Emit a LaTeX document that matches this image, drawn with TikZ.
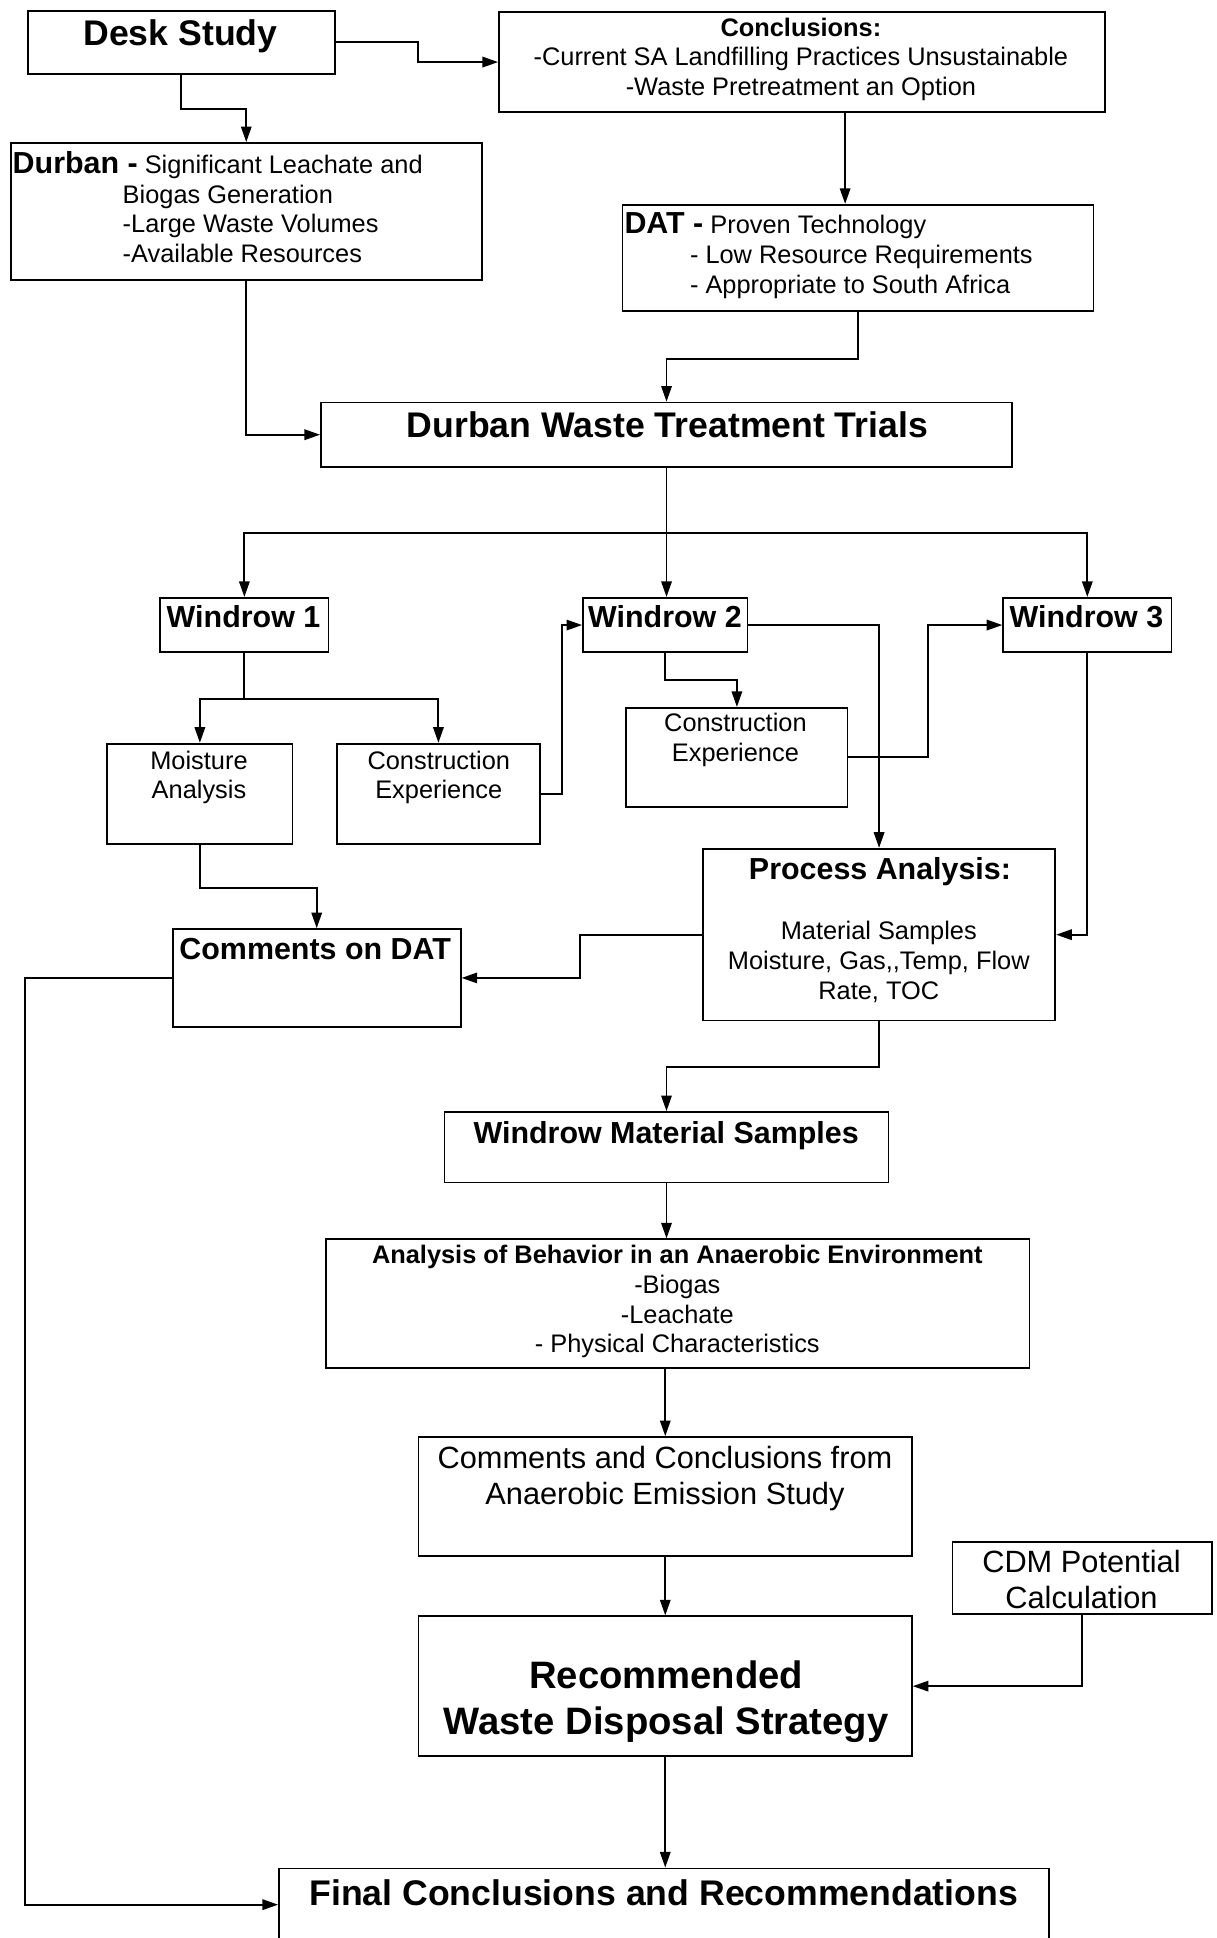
\documentclass[tikz,border=0pt]{standalone}
\usepackage{fontspec}
\setmainfont{Liberation Sans}
\usetikzlibrary{arrows.meta}

\tikzset{
  box/.style={draw, line width=1pt, anchor=north west, inner sep=0pt},
  arr/.style={line width=1.1pt, -{Triangle[length=9pt,width=6pt]}},
  ln/.style={line width=1.1pt},
  txt/.style={inner sep=0pt, align=center, font=\fontsize{14.6}{17.2}\selectfont},
  txtm/.style={inner sep=0pt, align=center, font=\fontsize{17.7}{20.6}\selectfont},
  hdm/.style={inner sep=0pt, align=center, font=\bfseries\fontsize{17.5}{20.6}\selectfont},
  hd/.style={inner sep=0pt, align=center, font=\bfseries\fontsize{20.5}{24}\selectfont},
}

\begin{document}
\begin{tikzpicture}[x=0.025cm, y=-0.025cm]
\useasboundingbox (0,0) rectangle (984,1568);
% boxes
\node[box, minimum width=6.2cm, minimum height=1.275cm] (desk) at (22,8) {};
\node[box, minimum width=12.25cm, minimum height=2.025cm] (concl) at (403,9) {};
\node[box, minimum width=9.525cm, minimum height=2.775cm] (durban) at (8,115) {};
\node[box, minimum width=9.525cm, minimum height=2.15cm] (dat) at (503,165) {};
\node[box, minimum width=13.975cm, minimum height=1.3cm] (trials) at (259,325) {};
\node[box, minimum width=3.4cm, minimum height=1.1cm] (wr1) at (129,483) {};
\node[box, minimum width=3.325cm, minimum height=1.1cm] (wr2) at (471,483) {};
\node[box, minimum width=3.4cm, minimum height=1.1cm] (wr3) at (811,483) {};
\node[box, minimum width=3.75cm, minimum height=2.025cm] (moist) at (86,601) {};
\node[box, minimum width=4.1cm, minimum height=2.025cm] (cons1) at (272,601) {};
\node[box, minimum width=4.475cm, minimum height=2cm] (cons2) at (506,572) {};
\node[box, minimum width=7.125cm, minimum height=3.475cm] (proc) at (568,686) {};
\node[box, minimum width=5.825cm, minimum height=1.975cm] (cdat) at (139,751) {};
\node[box, minimum width=8.975cm, minimum height=1.425cm] (wms) at (359,899) {};
\node[box, minimum width=14.225cm, minimum height=2.6cm] (anb) at (263,1002) {};
\node[box, minimum width=9.975cm, minimum height=2.4cm] (ccs) at (338,1162) {};
\node[box, minimum width=5.25cm, minimum height=1.45cm] (cdm) at (770,1247) {};
\node[box, minimum width=9.975cm, minimum height=2.825cm] (rec) at (338,1307) {};
\node[box, minimum width=15.575cm, minimum height=1.75cm] (final) at (225,1511) {};

% texts
\node[hd] (desk-t) at (146,29) {Desk Study};
\node[txt] (concl-t) at (648,48) {\textbf{Conclusions:}\\-Current SA Landfilling Practices Unsustainable\\-Waste Pretreatment an Option};
\node[txt, align=left, anchor=north west] (durban-t) at (10,122)
  {{\bfseries\fontsize{17.5}{17.2}\selectfont Durban -} Significant Leachate and\\
   \hspace*{2.225cm}Biogas Generation\\
   \hspace*{2.225cm}-Large Waste Volumes\\
   \hspace*{2.225cm}-Available Resources};
\node[txt, align=left, anchor=north west] (dat-t) at (505,172)
  {{\bfseries\fontsize{17.5}{17.2}\selectfont DAT -} Proven Technology\\
   \hspace*{1.325cm}- Low Resource Requirements\\
   \hspace*{1.325cm}- Appropriate to South Africa};
\node[hd] (trials-t) at (540,344) {Durban Waste Treatment Trials};
\node[hdm] (wr1-t) at (197,499) {Windrow 1};
\node[hdm] (wr2-t) at (538,499) {Windrow 2};
\node[hdm] (wr3-t) at (879,499) {Windrow 3};
\node[txt] (moist-t) at (161,629) {Moisture\\Analysis};
\node[txt] (cons1-t) at (355,629) {Construction\\Experience};
\node[txt] (cons2-t) at (595,599) {Construction\\Experience};
\node[hdm] (proc-h) at (712,705) {Process Analysis:};
\node[txt] (proc-t) at (711,778) {Material Samples\\Moisture, Gas,{},Temp, Flow\\Rate, TOC};
\node[hdm] (cdat-t) at (255,768) {Comments on DAT};
\node[hdm] (wms-t) at (539,919) {Windrow Material Samples};
\node[txt] (anb-t) at (548,1053) {\textbf{Analysis of Behavior in an Anaerobic Environment}\\-Biogas\\-Leachate\\- Physical Characteristics};
\node[txtm] (ccs-t) at (538,1196) {Comments and Conclusions from\\Anaerobic Emission Study};
\node[txtm] (cdm-t) at (875,1278) {CDM Potential\\Calculation};
\node[hd, font=\bfseries\fontsize{22}{26.3}\selectfont] (rec-t) at (539,1377) {Recommended\\Waste Disposal Strategy};
\node[hd] (final-t) at (537,1531) {Final Conclusions and Recommendations};

% connectors
\draw[arr] (desk.east) -- ++(67,0) |- (concl.west);
\draw[arr] (desk.south) -- ++(0,28) -| (durban.north);
\draw[arr] ([xshift=0.875cm]concl.south) -- ([xshift=0.875cm]concl.south |- dat.north);
\draw[arr] (durban.south) |- (trials.west);
\draw[arr] (dat.south) -- ++(0,38) -| (trials.north);
\draw[arr] (trials.south) -- (trials.south |- wr2.north);
\coordinate (bus) at (trials.south |- 0,431);
\draw[arr] (bus) -| (wr1.north);
\draw[arr] (bus) -| (wr3.north);
\draw[ln] (wr1.south) -- ++(0,37) coordinate (wr1split);
\draw[arr] (wr1split) -| (moist.north);
\draw[arr] (wr1split) -| (cons1.north);
\draw[arr] (cons1.east) -- ++(17,0) |- (wr2.west);
\draw[arr] (wr2.south) -- ++(0,22) -| (cons2.north);
\draw[arr] (wr2.east) -| (proc.north);
\draw[arr] (cons2.east) -- ++(64,0) |- (wr3.west);
\draw[arr] (wr3.south) |- (proc.east);
\draw[arr] (moist.south) -- ++(0,35) -| (cdat.north);
\draw[arr] (proc.west) -- ++(-99,0) |- (cdat.east);
\draw[arr] (proc.south) -- ++(0,37) -| (wms.north);
\draw[arr] (wms.south) -- (wms.south |- anb.north);
\draw[arr] (ccs.north |- anb.south) -- (ccs.north);
\draw[arr] (ccs.south) -- (rec.north);
\draw[arr] (cdm.south) |- (rec.east);
\draw[arr] (rec.south) -- (rec.south |- final.north);
\draw[arr] (cdat.west) -- ++(-119,0) |- ([yshift=-0.75cm]final.north west);
\end{tikzpicture}
\end{document}
